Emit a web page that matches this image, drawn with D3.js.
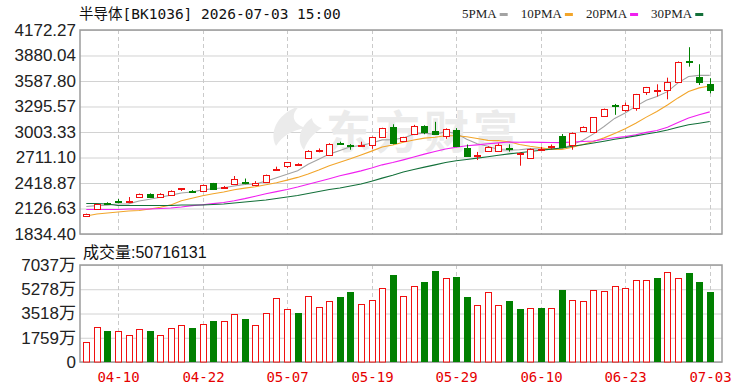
<!DOCTYPE html>
<html>
<head>
<meta charset="utf-8">
<script src="https://cdn.jsdelivr.net/npm/d3@7"></script>
<style>
  body { margin: 0; background: #fff; }
  svg { display: block; }
</style>
</head>
<body>
<div id="chart"></div>
<script>
// trading days shown on the chart
const dates = [
  "04-07","04-08","04-09","04-10","04-13","04-14","04-15","04-16","04-17","04-20",
  "04-21","04-22","04-23","04-24","04-27","04-28","04-29","04-30","05-06","05-07",
  "05-08","05-11","05-12","05-13","05-14","05-15","05-18","05-19","05-20","05-21",
  "05-22","05-25","05-26","05-27","05-28","05-29","06-01","06-02","06-03","06-04",
  "06-05","06-08","06-09","06-10","06-11","06-12","06-15","06-16","06-17","06-18",
  "06-22","06-23","06-24","06-25","06-26","06-29","06-30","07-01","07-02","07-03"
];

const opens = [
  2045,2124,2190,2215,2200,2262,2296,2255,2285,2352,
  2332,2331,2415,2368,2408,2432,2400,2434,2565,2612,
  2625,2711,2792,2745,2880,2860,2848,2860,2950,3060,
  2905,2980,3075,3015,2952,3030,2823,2735,2787,2790,
  2815,2752,2702,2800,2835,2955,2860,3015,3008,3186,
  3308,3256,3276,3466,3478,3488,3582,3812,3637,3552
];
const highs = [
  2068,2182,2198,2235,2258,2298,2300,2302,2335,2360,
  2338,2400,2420,2385,2499,2470,2440,2515,2606,2660,
  2645,2795,2815,2875,2892,2865,2892,2950,3052,3092,
  2948,3085,3080,3120,3045,3048,2860,2775,2840,2872,
  2862,2770,2815,2835,2860,2980,2998,3068,3175,3272,
  3325,3340,3440,3520,3550,3626,3812,3975,3780,3620
];
const lows = [
  2035,2120,2170,2186,2198,2255,2258,2250,2280,2327,
  2315,2328,2350,2362,2396,2405,2395,2428,2563,2590,
  2620,2700,2770,2740,2855,2800,2845,2810,2945,2862,
  2888,2968,2978,2975,2925,2830,2728,2682,2780,2785,
  2778,2617,2695,2795,2805,2828,2800,3010,3000,3182,
  3200,3235,3247,3428,3410,3378,3575,3752,3542,3447
];
const closes = [
  2062,2178,2176,2210,2212,2289,2262,2297,2330,2358,
  2325,2396,2354,2378,2466,2420,2424,2510,2575,2656,
  2635,2790,2798,2870,2865,2850,2856,2946,3049,2880,
  2942,3070,3008,2980,3037,2845,2733,2745,2835,2852,
  2806,2762,2812,2808,2845,2835,2994,3064,3170,3266,
  3300,3312,3435,3515,3490,3580,3808,3800,3582,3488
];
const prevClose = 2030;

// volume in 万
const volumes = [
  1430,2560,2270,2270,1960,2370,2270,1960,2465,2660,
  2490,2755,2995,2995,3480,3095,2660,3575,4615,3820,
  3575,4810,3990,4420,4735,5050,4205,4520,5340,6285,
  4810,5535,5775,6575,6065,6185,4735,4110,5050,4110,
  4420,3820,3890,3890,3890,5245,4520,4420,5220,5125,
  5535,5340,5945,5945,6065,6550,6065,6475,5775,5072
];

const ma5 = [
  2150,2160,2165,2178,2180,2213,2232,2256,2280,2305,
  2316,2340,2353,2364,2385,2403,2408,2440,2480,2518,
  2560,2633,2690,2750,2792,2835,2848,2877,2913,2916,
  2935,2977,2990,2976,3007,2988,2921,2868,2839,2802,
  2794,2800,2813,2808,2807,2812,2859,2909,2982,3066,
  3159,3222,3297,3366,3410,3466,3566,3639,3652,3652
];
const ma10 = [
  2041,2064,2075,2087,2098,2104,2121,2140,2168,2215,
  2245,2272,2295,2315,2342,2360,2376,2398,2422,2452,
  2483,2522,2567,2616,2656,2696,2740,2784,2831,2854,
  2885,2912,2933,2944,2961,2961,2949,2929,2907,2904,
  2891,2860,2840,2823,2804,2803,2829,2861,2895,2936,
  2985,3040,3103,3174,3238,3312,3394,3468,3509,3531
];
const ma20 = [
  2115,2115,2115,2115,2121,2121,2121,2127,2132,2144,
  2160,2170,2182,2195,2215,2240,2268,2295,2320,2345,
  2373,2404,2435,2468,2501,2529,2558,2591,2627,2653,
  2684,2717,2750,2780,2809,2829,2845,2856,2869,2879,
  2888,2886,2887,2884,2883,2882,2889,2895,2901,2920,
  2938,2950,2972,2999,3021,3058,3112,3164,3202,3234
];
const ma30 = [
  2184,2184,2178,2161,2161,2161,2161,2161,2161,2167,
  2167,2167,2172,2178,2190,2201,2213,2224,2241,2258,
  2276,2298,2321,2344,2362,2385,2407,2440,2475,2508,
  2544,2573,2601,2627,2654,2673,2689,2704,2720,2737,
  2753,2765,2780,2795,2807,2820,2840,2858,2878,2898,
  2920,2938,2959,2981,3001,3026,3057,3086,3104,3124
];

const priceTicks = [4172.27, 3880.04, 3587.80, 3295.57, 3003.33, 2711.10, 2418.87, 2126.63, 1834.40];
const volTicks = [7037, 5278, 3518, 1759, 0];
const dateTicks = ["04-10","04-22","05-07","05-19","05-29","06-10","06-23","07-03"];
const maNames = ["5PMA", "10PMA", "20PMA", "30PMA"];
const maColors = ["#a3a3a3", "#f2a52a", "#f020f0", "#13703a"];

const title = "半导体[BK1036] 2026-07-03 15:00";
const volTitle = "成交量:50716131";

const width = 750, height = 391;
const plotL = 80, plotR = 722;
const priceTop = 30, priceBot = 234;
const volTop = 265, volBot = 362;
const red = "#f01010", green = "#008000";
const numFont = "'Liberation Sans', Arial, 'Noto Sans CJK SC', sans-serif";

const svg = d3.select("#chart").append("svg")
  .attr("width", width)
  .attr("height", height);

const x = d3.scaleBand().domain(dates).range([81, 715]);
const cx = d => Math.round(x(d) + x.bandwidth() / 2) + 0.5;
const y = d3.scaleLinear().domain([priceTicks[8], priceTicks[0]]).range([priceBot, priceTop]);
const yv = d3.scaleLinear().domain([0, volTicks[0]]).range([volBot, volTop]);

// price axis + horizontal grid
const gPrice = svg.append("g")
  .attr("transform", `translate(${plotL},0)`)
  .call(d3.axisLeft(y).tickValues(priceTicks).tickFormat(d3.format(".2f"))
    .tickSize(-(plotR - plotL)).tickPadding(4));
gPrice.select(".domain").remove();
gPrice.selectAll(".tick line").attr("stroke", "#d2d2d2");
gPrice.selectAll(".tick text").attr("fill", "#222").style("font", `17px ${numFont}`);

// volume axis + grid
const gVol = svg.append("g")
  .attr("transform", `translate(${plotL},0)`)
  .call(d3.axisLeft(yv).tickValues(volTicks).tickFormat(d => d === 0 ? "0" : d + "万")
    .tickSize(-(plotR - plotL)).tickPadding(4));
gVol.select(".domain").remove();
gVol.selectAll(".tick line").attr("stroke", "#d2d2d2");
gVol.selectAll(".tick text").attr("fill", "#222").style("font", `17px ${numFont}`);

// dashed vertical grid in both panels
[[priceTop, priceBot], [volTop, volBot]].forEach(([t, b]) => {
  svg.append("g").selectAll("line")
    .data(dateTicks)
    .join("line")
      .attr("x1", d => cx(d)).attr("x2", d => cx(d))
      .attr("y1", t).attr("y2", b)
      .attr("stroke", "#cacaca")
      .attr("stroke-dasharray", "4,3");
});

// watermark
const wm = svg.append("g").attr("fill", "#ebebeb");
wm.append("path")
  .attr("d", "M300,106 C280,112 268,130 276,146 C282,136 292,130 306,128 C292,124 290,114 300,106 Z M312,118 C300,126 296,140 304,150 C308,138 316,132 322,128 C316,126 312,122 312,118 Z");
wm.append("text")
  .attr("x", 326).attr("y", 149)
  .attr("letter-spacing", 4)
  .style("font", "bold 45px 'Noto Sans CJK SC', sans-serif")
  .text("东方财富");

// frames
svg.append("rect").attr("x", plotL).attr("y", priceTop)
  .attr("width", plotR - plotL).attr("height", priceBot - priceTop)
  .attr("fill", "none").attr("stroke", "#9c9c9c").attr("stroke-width", 1.5);
svg.append("rect").attr("x", plotL).attr("y", volTop)
  .attr("width", plotR - plotL).attr("height", volBot - volTop)
  .attr("fill", "none").attr("stroke", "#9c9c9c").attr("stroke-width", 1.5);

// moving averages
const maSeries = [ma5, ma10, ma20, ma30];
const line = d3.line()
  .x((v, i) => x(dates[i]) + x.bandwidth() / 2)
  .y(v => y(v));
svg.append("g").selectAll("path")
  .data(maSeries)
  .join("path")
    .attr("d", d => line(d))
    .attr("fill", "none")
    .attr("stroke", (d, i) => maColors[i])
    .attr("stroke-width", 1.1);

// candles
const candles = dates.map((d, i) => ({date: d, o: opens[i], h: highs[i], l: lows[i], c: closes[i]}));
const gC = svg.append("g");
candles.forEach(k => {
  const px = cx(k.date);
  const up = k.c >= k.o;
  const col = up ? red : green;
  const top = y(Math.max(k.o, k.c)), bot = y(Math.min(k.o, k.c));
  const t = Math.round(top), b = Math.max(Math.round(bot), t + 1);
  if (up) {
    gC.append("line").attr("x1", px).attr("x2", px).attr("y1", y(k.h)).attr("y2", t + 0.5).attr("stroke", col);
    gC.append("line").attr("x1", px).attr("x2", px).attr("y1", b + 0.5).attr("y2", y(k.l)).attr("stroke", col);
    gC.append("rect").attr("x", px - 3).attr("y", t + 0.5).attr("width", 6).attr("height", b - t)
      .attr("fill", "#fff").attr("stroke", col);
  } else {
    gC.append("line").attr("x1", px).attr("x2", px).attr("y1", y(k.h)).attr("y2", y(k.l)).attr("stroke", col);
    gC.append("rect").attr("x", px - 3.5).attr("y", t).attr("width", 7).attr("height", b - t + 1)
      .attr("fill", col);
  }
});

// volume bars, coloured by change against the previous close
svg.append("g").selectAll("rect")
  .data(volumes)
  .join("rect")
    .each(function(v, i) {
      const up = closes[i] >= (i === 0 ? prevClose : closes[i - 1]);
      const px = cx(dates[i]);
      const t = Math.round(yv(v));
      d3.select(this)
        .attr("x", up ? px - 3 : px - 3.5)
        .attr("y", up ? t + 0.5 : t)
        .attr("width", up ? 6 : 7)
        .attr("height", up ? volBot - t - 0.5 : volBot - t)
        .attr("fill", up ? "#fff" : green)
        .attr("stroke", up ? red : "none");
    });

// date labels
svg.append("g").selectAll("text")
  .data(dateTicks)
  .join("text")
    .attr("x", d => cx(d))
    .attr("y", 382)
    .attr("text-anchor", "middle")
    .attr("fill", "#e60000")
    .style("font", "14px 'DejaVu Sans Mono', monospace")
    .text(d => d);

// titles
svg.append("text")
  .attr("x", 79).attr("y", 19)
  .attr("fill", "#111")
  .style("font", "14.5px 'DejaVu Sans Mono', 'Noto Sans CJK SC', monospace")
  .text(title);
svg.append("text")
  .attr("x", 83).attr("y", 258)
  .attr("fill", "#111")
  .style("font", `16px ${numFont}`)
  .text(volTitle);

// legend
let lx = 462;
maNames.forEach((name, i) => {
  const t = svg.append("text")
    .attr("x", lx).attr("y", 18)
    .attr("fill", "#222")
    .style("font", "13px 'Liberation Serif', 'Times New Roman', serif")
    .text(name);
  const w = t.node().getComputedTextLength();
  svg.append("rect")
    .attr("x", lx + w + 3).attr("y", 13)
    .attr("width", 8).attr("height", 3)
    .attr("fill", maColors[i]);
  lx += w + 3 + 8 + 13;
});
</script>
</body>
</html>
